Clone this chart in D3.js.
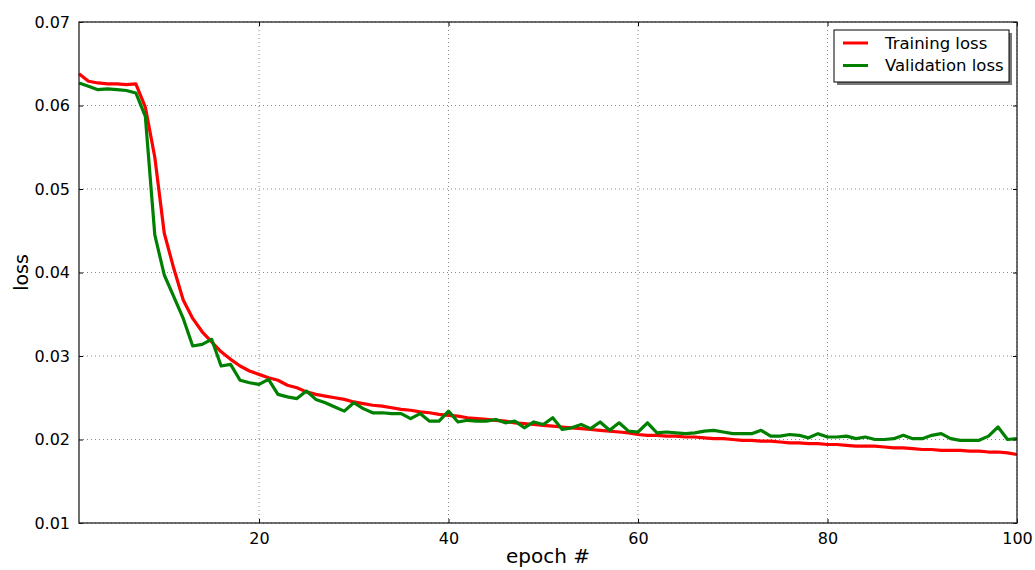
<!DOCTYPE html>
<html>
<head>
<meta charset="utf-8">
<script src="https://cdn.jsdelivr.net/npm/d3@7"></script>
<style>
  body { margin: 0; background: #fff; }
  text { font-family: "DejaVu Sans", sans-serif; fill: #000; }
</style>
</head>
<body>
<div id="chart"></div>
<script>
// values, one per epoch (1..100)
var training = [
  0.0638, 0.0629, 0.0627, 0.0626, 0.0626, 0.0625, 0.0626, 0.0598, 0.0538, 0.0447,
  0.0405, 0.0367, 0.0345, 0.0329, 0.0317, 0.0305, 0.0296, 0.0288, 0.0282, 0.0278,
  0.0274, 0.0271, 0.0265, 0.0262, 0.0257, 0.0254, 0.0252, 0.0250, 0.0248, 0.0245,
  0.0243, 0.0241, 0.0240, 0.0238, 0.0236, 0.0235, 0.0233, 0.0232, 0.0230, 0.0229,
  0.0228, 0.0226, 0.0225, 0.0224, 0.0223, 0.0222, 0.0220, 0.0219, 0.0218, 0.0217,
  0.0216, 0.0215, 0.0214, 0.0213, 0.0212, 0.0211, 0.0210, 0.0209, 0.0208, 0.0206,
  0.0205, 0.0205, 0.0204, 0.0204, 0.0203, 0.0203, 0.0202, 0.0201, 0.0201, 0.0200,
  0.0199, 0.0199, 0.0198, 0.0198, 0.0197, 0.0196, 0.0196, 0.0195, 0.0195, 0.0194,
  0.0194, 0.0193, 0.0192, 0.0192, 0.0192, 0.0191, 0.0190, 0.0190, 0.0189, 0.0188,
  0.0188, 0.0187, 0.0187, 0.0187, 0.0186, 0.0186, 0.0185, 0.0185, 0.0184, 0.0182
];

var validation = [
  0.0627, 0.0623, 0.0619, 0.0620, 0.0619, 0.0618, 0.0615, 0.0587, 0.0445, 0.0397,
  0.0371, 0.0345, 0.0312, 0.0314, 0.0320, 0.0288, 0.0290, 0.0271, 0.0268, 0.0266,
  0.0272, 0.0254, 0.0251, 0.0249, 0.0258, 0.0248, 0.0244, 0.0239, 0.0234, 0.0244,
  0.0237, 0.0232, 0.0232, 0.0231, 0.0231, 0.0225, 0.0231, 0.0222, 0.0222, 0.0234,
  0.0221, 0.0223, 0.0222, 0.0222, 0.0224, 0.0220, 0.0222, 0.0214, 0.0221, 0.0218,
  0.0226, 0.0212, 0.0214, 0.0218, 0.0213, 0.0221, 0.0211, 0.0220, 0.0210, 0.0209,
  0.0220, 0.0208, 0.0209, 0.0208, 0.0207, 0.0208, 0.0210, 0.0211, 0.0209, 0.0207,
  0.0207, 0.0207, 0.0211, 0.0204, 0.0204, 0.0206, 0.0205, 0.0202, 0.0207, 0.0203,
  0.0203, 0.0204, 0.0201, 0.0203, 0.0200, 0.0200, 0.0201, 0.0205, 0.0201, 0.0201,
  0.0205, 0.0207, 0.0201, 0.0199, 0.0199, 0.0199, 0.0204, 0.0215, 0.0200, 0.0201
];

var xTicks = [20, 40, 60, 80, 100];
var yTicks = [0.01, 0.02, 0.03, 0.04, 0.05, 0.06, 0.07];

var series = [
  { name: "Training loss", values: training, color: "#ff0000" },
  { name: "Validation loss", values: validation, color: "#008000" }
];

var W = 1035, H = 570;
var margin = { top: 22, right: 18, bottom: 47, left: 79 };
var width = W - margin.left - margin.right;
var height = H - margin.top - margin.bottom;

var x = d3.scaleLinear().domain([1, 100]).range([0, width]);
var y = d3.scaleLinear().domain([0.01, 0.07]).range([height, 0]);

var svg = d3.select("#chart").append("svg")
    .attr("width", W)
    .attr("height", H);

var g = svg.append("g")
    .attr("transform", "translate(" + margin.left + "," + margin.top + ")");

// grid
g.append("g").selectAll("line.gx")
  .data(xTicks).enter().append("line")
    .attr("x1", d => x(d)).attr("x2", d => x(d))
    .attr("y1", 0).attr("y2", height)
    .attr("stroke", "#888").attr("stroke-width", 1)
    .attr("stroke-dasharray", "1,3");

g.append("g").selectAll("line.gy")
  .data(yTicks).enter().append("line")
    .attr("x1", 0).attr("x2", width)
    .attr("y1", d => y(d)).attr("y2", d => y(d))
    .attr("stroke", "#888").attr("stroke-width", 1)
    .attr("stroke-dasharray", "1,3");

// lines
var line = d3.line()
    .x((d, i) => x(i + 1))
    .y(d => y(d));

g.append("g").selectAll("path")
  .data(series).enter().append("path")
    .attr("d", d => line(d.values))
    .attr("fill", "none")
    .attr("stroke", d => d.color)
    .attr("stroke-width", 3.2)
    .attr("stroke-linejoin", "round");

// axes, ticks inside like matplotlib classic
var xAxis = g.append("g")
    .attr("transform", "translate(0," + height + ")")
    .call(d3.axisBottom(x).tickValues(xTicks).tickSizeInner(-4).tickSizeOuter(0).tickPadding(10));
var xTop = g.append("g")
    .call(d3.axisTop(x).tickValues(xTicks).tickSizeInner(-4).tickSizeOuter(0).tickFormat(""));
var yAxis = g.append("g")
    .call(d3.axisLeft(y).tickValues(yTicks).tickSizeInner(-4).tickSizeOuter(0).tickPadding(9)
      .tickFormat(d3.format(".2f")));
var yRight = g.append("g")
    .attr("transform", "translate(" + width + ",0)")
    .call(d3.axisRight(y).tickValues(yTicks).tickSizeInner(-4).tickSizeOuter(0).tickFormat(""));

[xAxis, xTop, yAxis, yRight].forEach(function(a) {
  a.select(".domain").remove();
  a.selectAll("line").attr("stroke", "#000");
  a.selectAll("text").style("font-size", "16px").style("font-family", "DejaVu Sans");
});

// frame
g.append("rect")
    .attr("width", width).attr("height", height)
    .attr("fill", "none")
    .attr("stroke", "#222").attr("stroke-width", 1.3);

// axis labels
svg.append("text")
    .attr("x", margin.left + width / 2)
    .attr("y", H - 7)
    .attr("text-anchor", "middle")
    .style("font-size", "20px")
    .text("epoch #");

svg.append("text")
    .attr("transform", "translate(28," + (margin.top + height / 2) + ") rotate(-90)")
    .attr("text-anchor", "middle")
    .style("font-size", "19px")
    .text("loss");

// legend
var lx = 834, ly = 30, lw = 175, lh = 52;
svg.append("rect")
    .attr("x", lx + 3).attr("y", ly + 3)
    .attr("width", lw).attr("height", lh)
    .attr("fill", "#777");
svg.append("rect")
    .attr("x", lx).attr("y", ly)
    .attr("width", lw).attr("height", lh)
    .attr("fill", "#fff").attr("stroke", "#000").attr("stroke-width", 1);

var items = svg.append("g").selectAll("g")
  .data(series).enter().append("g")
    .attr("transform", (d, i) => "translate(" + lx + "," + (ly + 13 + i * 22.5) + ")");
items.append("line")
    .attr("x1", 9).attr("x2", 34)
    .attr("stroke", d => d.color).attr("stroke-width", 3);
items.append("text")
    .attr("x", 51).attr("dy", "0.35em")
    .style("font-size", "16.5px")
    .text(d => d.name);
</script>
</body>
</html>
